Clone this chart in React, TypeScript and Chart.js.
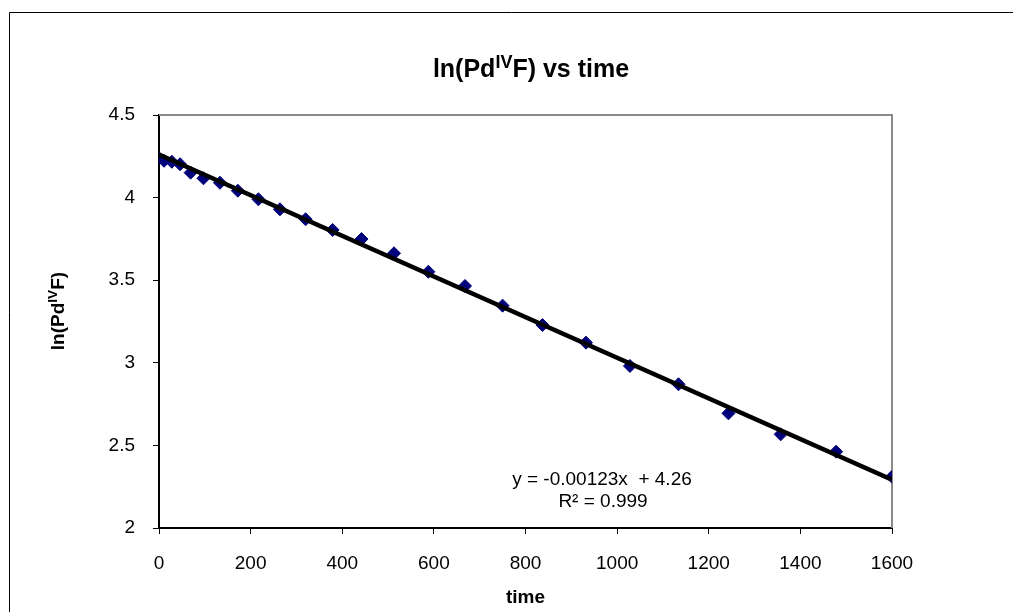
import React, { useEffect, useRef } from "react";
import { Chart, registerables } from "chart.js";

Chart.register(...registerables);

// ---- data ----
const times = [0, 11, 28, 46, 69, 97, 133, 172, 217, 264, 320, 379, 442, 513, 588, 668, 750, 837, 932, 1028, 1134, 1243, 1357, 1478, 1600];
const lnValues = [4.238, 4.223, 4.217, 4.202, 4.151, 4.117, 4.09, 4.042, 3.99, 3.929, 3.869, 3.804, 3.749, 3.663, 3.551, 3.465, 3.346, 3.229, 3.122, 2.981, 2.87, 2.694, 2.567, 2.462, 2.31];

const trendTimes = [0, 1600];
const trendValues = [4.26, 2.292];

const xTickValues = [0, 200, 400, 600, 800, 1000, 1200, 1400, 1600];
const xTickLabels = ["0", "200", "400", "600", "800", "1000", "1200", "1400", "1600"];
const yTickValues = [2, 2.5, 3, 3.5, 4, 4.5];
const yTickLabels = ["2", "2.5", "3", "3.5", "4", "4.5"];

const titleParts: [string, boolean][] = [["ln(Pd", false], ["IV", true], ["F) vs time", false]];
const yTitleParts: [string, boolean][] = [["ln(Pd", false], ["IV", true], ["F)", false]];
const xTitle = "time";
const equationLines = ["y = -0.00123x  + 4.26", "R\u00B2 = 0.999"];

const FONT = '"Liberation Sans", Arial, sans-serif';

function drawRich(
  ctx: CanvasRenderingContext2D,
  parts: [string, boolean][],
  cx: number,
  cy: number,
  size: number,
  weight: string,
  supRatio: number
) {
  const supSize = size * supRatio;
  let total = 0;
  const widths: number[] = [];
  for (const [t, sup] of parts) {
    ctx.font = `${weight} ${sup ? supSize : size}px ${FONT}`;
    const w = ctx.measureText(t).width;
    widths.push(w);
    total += w;
  }
  let x = cx - total / 2;
  ctx.textAlign = "left";
  ctx.textBaseline = "alphabetic";
  const baseline = cy + size * 0.36;
  parts.forEach(([t, sup], i) => {
    ctx.font = `${weight} ${sup ? supSize : size}px ${FONT}`;
    ctx.fillText(t, x, sup ? baseline - size * 0.38 : baseline);
    x += widths[i];
  });
}

const decorPlugin = {
  id: "decor",
  beforeDraw(chart: any) {
    const ctx = chart.ctx as CanvasRenderingContext2D;
    ctx.save();
    ctx.fillStyle = "#ffffff";
    ctx.fillRect(0, 0, chart.width, chart.height);
    ctx.strokeStyle = "#000000";
    ctx.lineWidth = 1;
    ctx.beginPath();
    ctx.moveTo(9.5, chart.height);
    ctx.lineTo(9.5, 12.5);
    ctx.lineTo(chart.width, 12.5);
    ctx.stroke();
    ctx.restore();
  },
  beforeDatasetsDraw(chart: any) {
    const { ctx, chartArea } = chart;
    ctx.save();
    ctx.strokeStyle = "#8a8a8a";
    ctx.lineWidth = 2;
    ctx.beginPath();
    ctx.moveTo(chartArea.left, chartArea.top);
    ctx.lineTo(chartArea.right, chartArea.top);
    ctx.lineTo(chartArea.right, chartArea.bottom);
    ctx.stroke();
    ctx.restore();
  },
  afterDraw(chart: any) {
    const ctx = chart.ctx as CanvasRenderingContext2D;
    const area = chart.chartArea;
    ctx.save();
    ctx.fillStyle = "#000000";
    // title
    drawRich(ctx, titleParts, 531, 68, 25, "bold", 0.72);
    // x title
    drawRich(ctx, [[xTitle, false]], (area.left + area.right) / 2, 596, 19, "bold", 0.7);
    // y title (rotated)
    ctx.save();
    ctx.translate(57, 311);
    ctx.rotate(-Math.PI / 2);
    drawRich(ctx, yTitleParts, 0, 0, 19, "bold", 0.72);
    ctx.restore();
    // equation
    ctx.font = `19px ${FONT}`;
    ctx.textAlign = "center";
    ctx.textBaseline = "middle";
    ctx.fillText(equationLines[0], 602, 480);
    ctx.fillText(equationLines[1], 603, 502);
    ctx.restore();
  },
};

export default function App() {
  const ref = useRef<HTMLCanvasElement>(null);

  useEffect(() => {
    if (!ref.current) return;
    const chart = new Chart(ref.current, {
      type: "scatter",
      data: {
        datasets: [
          {
            type: "line",
            label: "trend",
            data: trendTimes.map((t, i) => ({ x: t, y: trendValues[i] })),
            borderColor: "#000000",
            borderWidth: 4.5,
            pointRadius: 0,
            fill: false,
          } as any,
          {
            label: "ln(PdIVF)",
            data: times.map((t, i) => ({ x: t, y: lnValues[i] })),
            pointStyle: "rectRot",
            pointRadius: 6.5,
            backgroundColor: "#00007a",
            borderColor: "#00007a",
            borderWidth: 1,
            showLine: false,
          },
        ],
      },
      options: {
        animation: false,
        responsive: false,
        devicePixelRatio: 1,
        layout: { padding: { left: 0, top: 115, right: 121, bottom: 0 } },
        plugins: { legend: { display: false }, tooltip: { enabled: false }, title: { display: false } },
        scales: {
          x: {
            type: "linear",
            min: 0,
            max: 1600,
            afterFit: (s: any) => {
              s.height = 84;
            },
            afterBuildTicks: (s: any) => {
              s.ticks = xTickValues.map((v) => ({ value: v }));
            },
            ticks: {
              autoSkip: false,
              maxRotation: 0,
              padding: 18,
              color: "#000000",
              font: { family: FONT, size: 19 },
              callback: (_v: any, i: number) => xTickLabels[i],
            },
            grid: { display: true, drawOnChartArea: false, drawTicks: true, tickLength: 6, color: "#000000", lineWidth: 1 },
            border: { display: true, color: "#000000", width: 2 },
          },
          y: {
            type: "linear",
            min: 2,
            max: 4.5,
            afterFit: (s: any) => {
              s.width = 159;
            },
            afterBuildTicks: (s: any) => {
              s.ticks = yTickValues.map((v) => ({ value: v }));
            },
            ticks: {
              autoSkip: false,
              padding: 18,
              color: "#000000",
              font: { family: FONT, size: 19 },
              callback: (_v: any, i: number) => yTickLabels[i],
            },
            grid: { display: true, drawOnChartArea: false, drawTicks: true, tickLength: 6, color: "#000000", lineWidth: 1 },
            border: { display: true, color: "#000000", width: 2 },
          },
        },
      },
      plugins: [decorPlugin],
    });
    return () => chart.destroy();
  }, []);

  return (
    <div style={{ position: "fixed", left: 0, top: 0, width: 1013, height: 612, background: "#ffffff" }}>
      <canvas ref={ref} width={1013} height={612} style={{ display: "block", width: 1013, height: 612 }} />
    </div>
  );
}
